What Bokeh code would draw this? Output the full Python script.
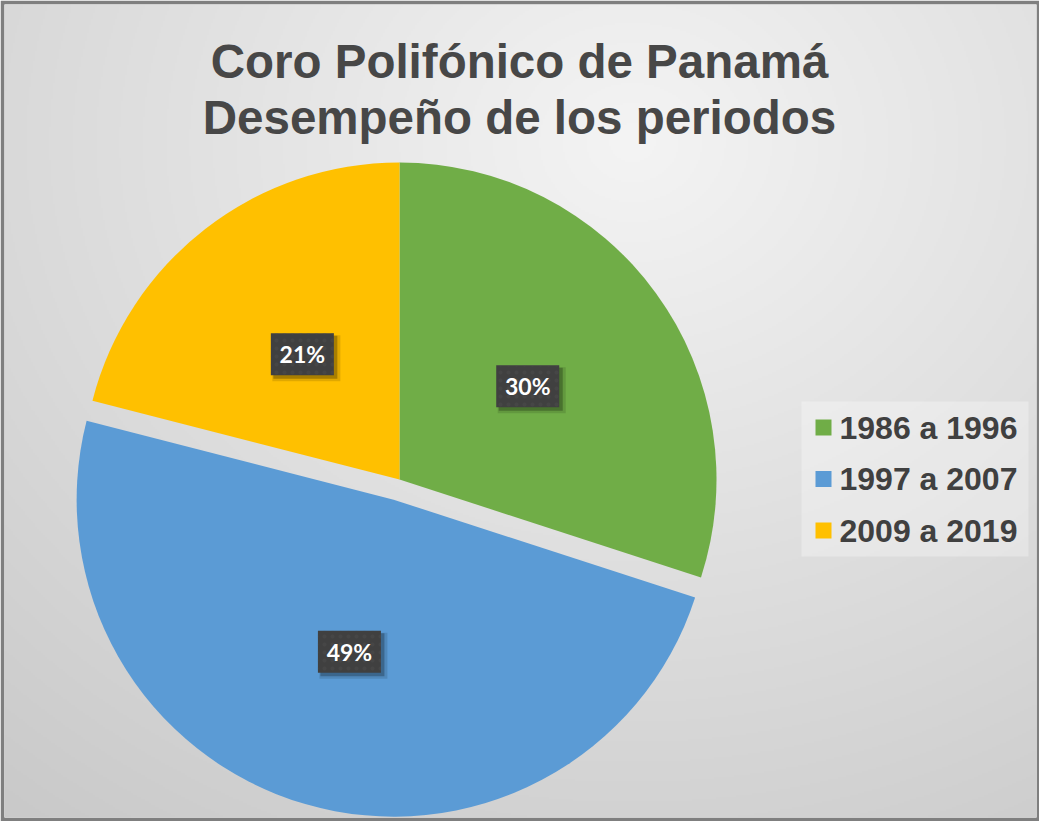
import numpy as np
from bokeh.plotting import figure
from bokeh.models import Range1d, ColumnDataSource
from bokeh.core.properties import value
from bokeh.embed import file_html
from bokeh.resources import INLINE

# ---------------- data ----------------
title_lines = ["Coro Polifónico de Panamá", "Desempeño de los periodos"]
categories = ["1986 a 1996", "1997 a 2007", "2009 a 2019"]
values = [30, 49, 21]
colors = ["#70AD47", "#5B9BD5", "#FFC000"]
explode_px = [0, 21, 0]

# ---------------- layout ----------------
W, H = 1039, 821
BL, BR, BT, BB = 4, 3, 4, 4

p = figure(width=W, height=H, output_backend="svg", toolbar_location=None,
           x_range=Range1d(BL, W - BR), y_range=Range1d(BB, H - BT),
           x_axis_location=None, y_axis_location=None,
           min_border_left=BL, min_border_right=BR,
           min_border_top=BT, min_border_bottom=BB,
           border_fill_color="#7f7f7f", background_fill_color="#e0e0e0",
           outline_line_color=None)
p.xgrid.visible = False
p.ygrid.visible = False

# ---------------- background gradient ----------------
nx, ny = 516, 407
xs = BL + (np.arange(nx) + 0.5) * (W - BL - BR) / nx
ys = BB + (np.arange(ny) + 0.5) * (H - BT - BB) / ny
X, Y = np.meshgrid(xs, ys)
RX = X + 8
RY = 829 - Y
rr = np.sqrt(((RX - 640) / 700) ** 2 + ((RY - 150) / 600) ** 2)
v = np.clip(244 - 30 * rr, 180, 245).astype(np.uint8)
img = np.empty((ny, nx), dtype=np.uint32)
view = img.view(dtype=np.uint8).reshape((ny, nx, 4))
view[..., 0] = v
view[..., 1] = v
view[..., 2] = v
view[..., 3] = 255
p.image_rgba(image=[img], x=BL, y=BB, dw=W - BL - BR, dh=H - BT - BB)

# ---------------- pie ----------------
cx, cy, R = 399, 342, 317
vals = np.array(values, dtype=float)
total = vals.sum()
cum = np.concatenate([[0], np.cumsum(vals) / total])
start = np.pi / 2 - 2 * np.pi * cum[:-1]
end = np.pi / 2 - 2 * np.pi * cum[1:]
mid = (start + end) / 2
ex = np.array(explode_px, dtype=float)
px = cx + ex * np.cos(mid)
py = cy + ex * np.sin(mid)

src = ColumnDataSource(dict(x=px, y=py, start=start, end=end, color=colors))
p.wedge(x="x", y="y", radius=R, start_angle="start", end_angle="end",
        direction="clock", fill_color="color", line_color=None, source=src)

# ---------------- data labels ----------------
lx = px + 0.5 * R * np.cos(mid)
ly = py + 0.5 * R * np.sin(mid)
labels = [f"{round(x / total * 100)}%" for x in vals]
p.rect(x=lx + 4, y=ly - 4, width=68, height=46, fill_color="black",
       fill_alpha=0.12, line_color=None)
p.rect(x=lx + 3, y=ly - 3, width=64, height=43, fill_color="black",
       fill_alpha=0.25, line_color=None)
p.rect(x=lx, y=ly, width=63, height=42, fill_color="#404040", line_color=None,
       hatch_pattern="dot", hatch_color="#505050", hatch_scale=8, hatch_alpha=0.4)
p.text(x=lx, y=ly, text=labels, text_align="center", text_baseline="middle",
       text_color="white", text_font=value("Lato"), text_font_style="bold",
       text_font_size="23px")

# ---------------- legend ----------------
p.rect(x=[914.5], y=[342.5], width=227, height=155, fill_color="white",
       fill_alpha=0.3, line_color=None)
leg_y = 394 - 51.5 * np.arange(len(categories))
p.rect(x=[823] * len(categories), y=leg_y, width=16, height=16,
       fill_color=colors, line_color=None)
p.text(x=[839] * len(categories), y=leg_y, text=categories, text_align="left",
       text_baseline="middle", text_color="#404040",
       text_font=value("Liberation Sans"), text_font_style="bold",
       text_font_size="32px")

# ---------------- title ----------------
p.text(x=[519, 519], y=[760, 704], text=title_lines, text_align="center",
       text_baseline="alphabetic", text_color="#474747",
       text_font=value("Liberation Sans"), text_font_style="bold",
       text_font_size="47.5px")

open("out.html", "w").write(file_html(p, INLINE))
